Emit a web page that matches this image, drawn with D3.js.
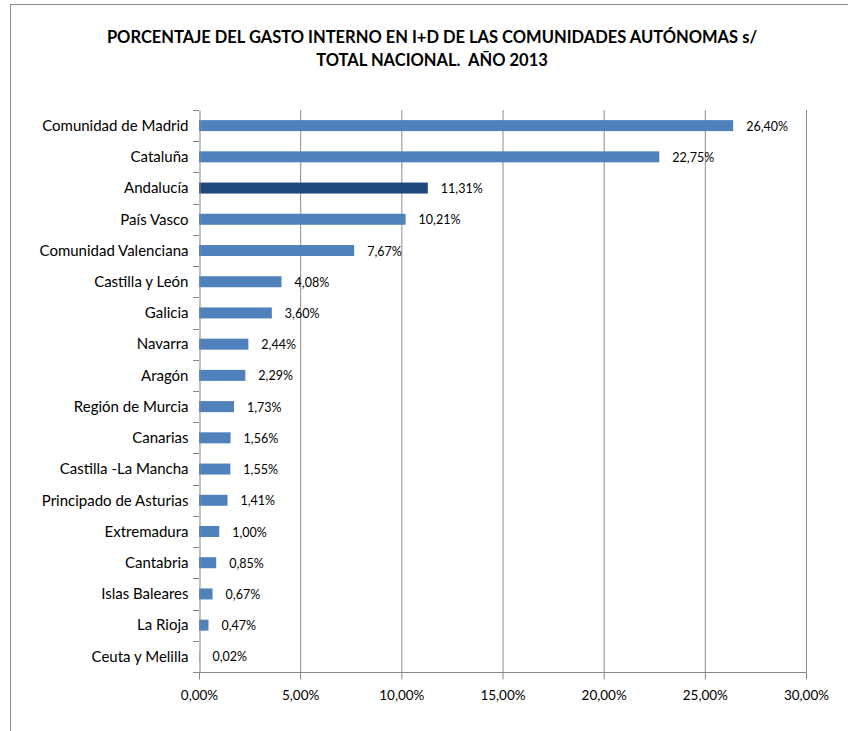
<!DOCTYPE html>
<html>
<head>
<meta charset="utf-8">
<script src="https://cdn.jsdelivr.net/npm/d3@7"></script>
<style>
  body { margin: 0; background: #fff; }
  svg text { font-family: Lato, "Open Sans", sans-serif; fill: #000; }
</style>
</head>
<body>
<svg id="chart" width="848" height="731"></svg>
<script>
// regions, top to bottom
var regions = ["Comunidad de Madrid", "Cataluña", "Andalucía", "País Vasco", "Comunidad Valenciana",
  "Castilla y León", "Galicia", "Navarra", "Aragón", "Región de Murcia", "Canarias",
  "Castilla -La Mancha", "Principado de Asturias", "Extremadura", "Cantabria",
  "Islas Baleares", "La Rioja", "Ceuta y Melilla"];
var shares = [26.40, 22.75, 11.31, 10.21, 7.67, 4.08, 3.60, 2.44, 2.29, 1.73, 1.56,
  1.55, 1.41, 1.00, 0.85, 0.67, 0.47, 0.02];
var xTicks = [0, 5, 10, 15, 20, 25, 30];
var highlight = "Andalucía";

var svg = d3.select("#chart");

// plot area
const plotLeft = 199, plotRight = 806, plotTop = 110, plotBottom = 672;

var fmt = (v) => v.toFixed(2).replace(".", ",") + "%";

// outer frame (only top/left edges visible)
svg.append("rect")
  .attr("x", 10.5).attr("y", 4.5)
  .attr("width", 900).attr("height", 900)
  .attr("fill", "none").attr("stroke", "#8a8a8a").attr("stroke-width", 1);

// title
var title = svg.append("text")
  .attr("text-anchor", "middle")
  .style("font-size", "16.5px").style("font-weight", "bold");
title.append("tspan").attr("x", 432).attr("y", 43).text("PORCENTAJE DEL GASTO INTERNO EN I+D DE LAS COMUNIDADES AUTÓNOMAS s/");
title.append("tspan").attr("x", 432).attr("y", 66).style("white-space", "pre").text("TOTAL NACIONAL.  AÑO 2013");

var x = d3.scaleLinear().domain([0, 30]).range([plotLeft, plotRight]);
var y = d3.scaleBand().domain(regions).range([plotTop, plotBottom]);

// vertical gridlines
svg.append("g").selectAll("line")
  .data(xTicks.slice(1))
  .enter().append("line")
  .attr("x1", d => x(d) + 0.5).attr("x2", d => x(d) + 0.5)
  .attr("y1", plotTop).attr("y2", plotBottom)
  .attr("stroke", "#8c8c8c").attr("stroke-width", 1);

// bars
svg.append("g").selectAll("rect")
  .data(regions)
  .enter().append("rect")
  .attr("x", x(0))
  .attr("y", d => y(d) + y.bandwidth() / 2 - 5.5)
  .attr("width", (d, i) => x(shares[i]) - x(0))
  .attr("height", 11)
  .attr("fill", d => d === highlight ? "#1f497d" : "#4f81bd");

// data labels
svg.append("g").selectAll("text")
  .data(regions)
  .enter().append("text")
  .attr("x", (d, i) => x(shares[i]) + 13)
  .attr("y", d => y(d) + y.bandwidth() / 2 + 5)
  .style("font-size", "12.5px")
  .text((d, i) => fmt(shares[i]));

// x axis
var xAxis = d3.axisBottom(x).tickValues(xTicks).tickSize(7).tickFormat(fmt);
var gx = svg.append("g")
  .attr("transform", "translate(0," + (plotBottom + 0.5) + ")")
  .call(xAxis);
gx.select(".domain").attr("stroke", "#868686").attr("d", "M" + plotLeft + ",0H" + (plotRight + 0.5));
gx.selectAll(".tick line").attr("stroke", "#868686");
gx.selectAll(".tick text").attr("dy", "1.3em").style("font-size", "13.5px");

// y axis
var yAxis = d3.axisLeft(y).tickSize(0).tickPadding(11);
var gy = svg.append("g")
  .attr("transform", "translate(" + (plotLeft + 0.5) + ",0)")
  .call(yAxis);
gy.select(".domain").attr("stroke", "#868686");
gy.selectAll(".tick text").style("font-size", "15px").attr("dy", "0.35em");

// category separator ticks
svg.append("g").selectAll("line")
  .data(d3.range(regions.length + 1))
  .enter().append("line")
  .attr("x1", plotLeft - 6).attr("x2", plotLeft)
  .attr("y1", i => Math.round(plotTop + i * y.step()) + 0.5)
  .attr("y2", i => Math.round(plotTop + i * y.step()) + 0.5)
  .attr("stroke", "#868686");
</script>
</body>
</html>
